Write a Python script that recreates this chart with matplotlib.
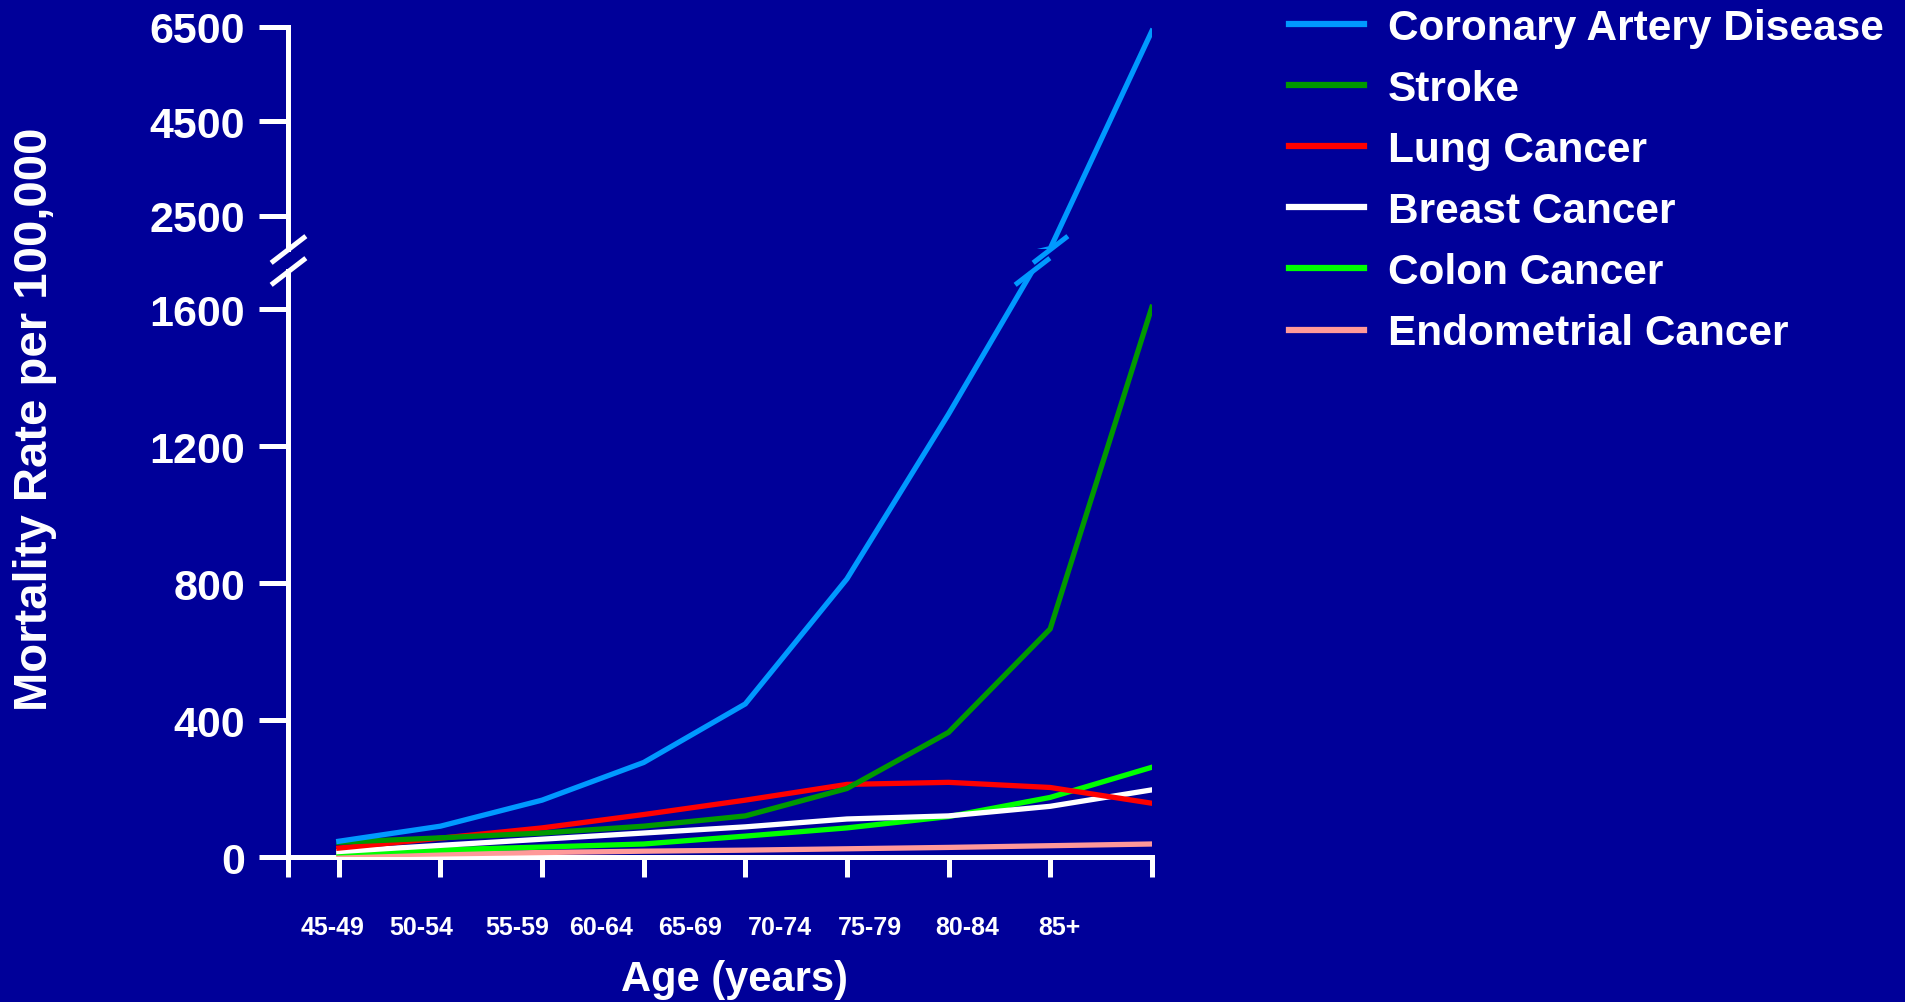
import numpy as np
import matplotlib
matplotlib.use("Agg")
import matplotlib.pyplot as plt

plt.rcParams['font.family'] = ['Liberation Sans', 'DejaVu Sans']
plt.rcParams['font.weight'] = 'bold'

ages = ["45-49", "50-54", "55-59", "60-64", "65-69", "70-74", "75-79", "80-84", "85+"]
cad = [46, 90, 166, 276, 447, 812, 1293, 1800, 6400]
stroke = [43, 56, 70, 90, 120, 200, 364, 666, 1605]
lung = [26, 55, 85, 124, 166, 212, 218, 203, 157]
breast = [16, 34, 52, 70, 88, 111, 120, 148, 196]
colon = [12, 21, 29, 38, 61, 85, 118, 174, 262]
endometrial = [5, 9, 13, 17, 20, 24, 28, 33, 38]

names = ["Coronary Artery Disease", "Stroke", "Lung Cancer",
         "Breast Cancer", "Colon Cancer", "Endometrial Cancer"]
series = [cad, stroke, lung, breast, colon, endometrial]
colors = ["#0099ff", "#009900", "#ff0000", "#ffffff", "#00ff00", "#ff9999"]

bg = "#000099"
x = np.arange(len(ages))
# where the age labels sit under the axis (they drift left of the ticks)
label_pos = [-0.06, 0.81, 1.76, 2.58, 3.46, 4.34, 5.23, 6.18, 7.09]

fig = plt.figure(figsize=(19.06, 10.03), dpi=100, facecolor=bg)
ax_bot = fig.add_axes([0.1511, 0.14456, 0.4532, 0.58425], facecolor=bg)
ax_top = fig.add_axes([0.1511, 0.75115, 0.4532, 0.22143], facecolor=bg)

handles = []
for i, (name, vals, c) in enumerate(zip(names, series, colors)):
    z = 10 - i
    h, = ax_bot.plot(x, vals, color=c, lw=3.8, label=name, zorder=z,
                     solid_joinstyle='miter')
    handles.append(h)
ax_top.plot(x, cad, color=colors[0], lw=3.8, zorder=10)

ax_bot.set_ylim(0, 1711)
ax_top.set_ylim(1800, 6500)
for ax in (ax_bot, ax_top):
    ax.set_xlim(-0.5, 8)
    for s in ax.spines.values():
        s.set_visible(False)
    ax.spines['left'].set_visible(True)
    ax.spines['left'].set_color('white')
    ax.spines['left'].set_linewidth(3.6)
    ax.tick_params(axis='y', colors='white', length=21, width=3.6, pad=10,
                   labelsize=31)
ax_bot.spines['bottom'].set_visible(True)
ax_bot.spines['bottom'].set_color('white')
ax_bot.spines['bottom'].set_linewidth(3.6)

ax_bot.set_yticks([0, 400, 800, 1200, 1600])
ax_top.set_yticks([2500, 4500, 6500])
ax_top.set_xticks([])

ax_bot.set_xticks([-0.5] + list(x))
ax_bot.set_xticklabels([])
ax_bot.set_xticks(label_pos, minor=True)
ax_bot.set_xticklabels(ages, minor=True)
ax_bot.tick_params(axis='x', which='major', colors='white', length=14.5,
                   width=3.6)
ax_bot.tick_params(axis='x', which='minor', colors='white', length=0,
                   pad=41.5, labelsize=18)

# break marks on the y axis
mark = [(-1, -0.77), (1, 0.77)]
ax_top.plot([0], [0], marker=mark, ms=25, mew=3.6, color='white',
            transform=ax_top.transAxes, clip_on=False)
ax_bot.plot([0], [1], marker=mark, ms=25, mew=3.6, color='white',
            transform=ax_bot.transAxes, clip_on=False)

# break marks where the coronary line leaves one panel and enters the other
xb = np.interp(ax_bot.get_ylim()[1], cad, x)
xt = np.interp(ax_top.get_ylim()[0], cad, x)
ax_bot.plot([xb], [ax_bot.get_ylim()[1]], marker=mark, ms=25, mew=3.6,
            color=colors[0], clip_on=False, zorder=11)
ax_top.plot([xt], [ax_top.get_ylim()[0]], marker=mark, ms=25, mew=3.6,
            color=colors[0], clip_on=False, zorder=11)

fig.text(0.0184, 0.5823, "Mortality Rate per 100,000", rotation=90,
         color='white', fontsize=34, ha='center', va='center')
fig.text(0.3856, 0.023, "Age (years)", color='white', fontsize=30,
         ha='center', va='center')

leg = fig.legend(handles=handles, loc='upper left',
                 bbox_to_anchor=(0.6763, 0.9915), bbox_transform=fig.transFigure,
                 frameon=False, fontsize=30.5, handlelength=1.78,
                 handletextpad=0.56, labelspacing=0.5, borderpad=0,
                 borderaxespad=0)
for t in leg.get_texts():
    t.set_color('white')
for l in leg.get_lines():
    l.set_linewidth(4.5)

fig.savefig("out.png", dpi=100, facecolor=bg)
